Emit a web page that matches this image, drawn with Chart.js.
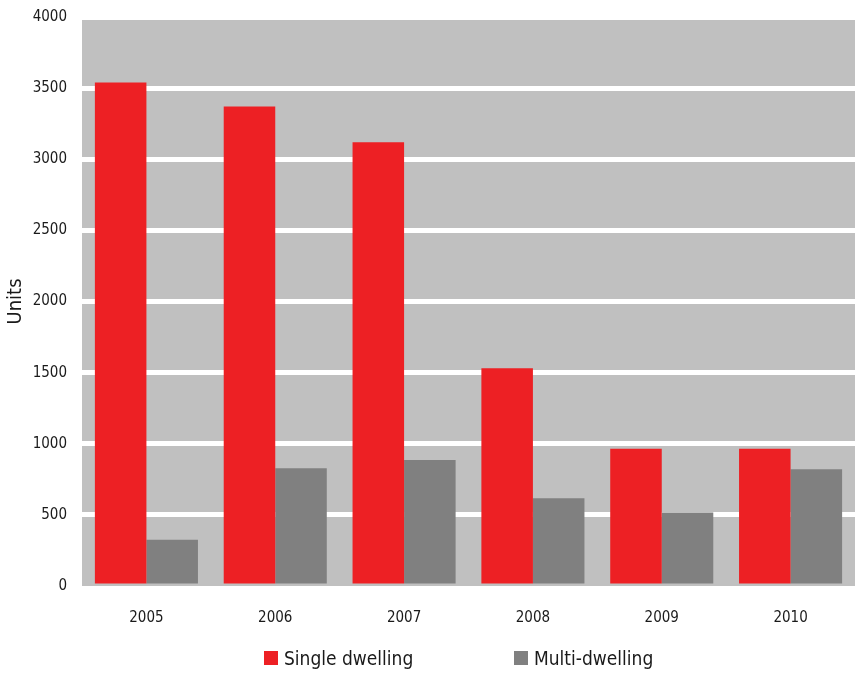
<!DOCTYPE html>
<html>
<head>
<meta charset="utf-8">
<script src="https://cdn.jsdelivr.net/npm/chart.js@4"></script>
<style>
  html, body { margin: 0; padding: 0; background: #fff; }
  #wrap { position: relative; width: 859px; height: 675px; }
  #legend {
    position: absolute; left: 264px; top: 647px;
    display: flex; align-items: center;
    font-family: "DejaVu Sans Condensed", sans-serif;
    font-size: 19px; color: #1a1a1a;
  }
  .item { display: flex; align-items: center; width: 250px; }
  .box { width: 14px; height: 14px; margin-right: 6px; }
</style>
</head>
<body>
<div id="wrap">
  <canvas id="chart" width="859" height="675"></canvas>
  <div id="legend"></div>
</div>
<script>
var years = ["2005", "2006", "2007", "2008", "2009", "2010"];
var singleDwelling = [3540, 3370, 3120, 1530, 965, 965];
var multiDwelling = [326, 828, 885, 616, 517, 821];
var seriesNames = ["Single dwelling", "Multi-dwelling"];
var seriesColors = ["#ed2024", "#808080"];

var fontFamily = '"DejaVu Sans Condensed", sans-serif';

// grey plot background behind the grid
var plotBackground = {
    id: 'plotBackground',
    beforeDraw: function (chart) {
        var a = chart.chartArea;
        var ctx = chart.ctx;
        ctx.save();
        ctx.fillStyle = '#c0c0c0';
        ctx.fillRect(a.left, a.top, a.right - a.left, a.bottom - a.top);
        ctx.restore();
    }
};

var ctx = document.getElementById("chart").getContext('2d');
var myChart = new Chart(ctx, {
    type: 'bar',
    data: {
        labels: years,
        datasets: [
            {
                label: seriesNames[0],
                data: singleDwelling,
                backgroundColor: seriesColors[0],
            },
            {
                label: seriesNames[1],
                data: multiDwelling,
                backgroundColor: seriesColors[1],
            }
        ]
    },
    options: {
        responsive: false,
        animation: false,
        layout: { padding: { top: 17, right: 4 } },
        datasets: {
            bar: { categoryPercentage: 0.8, barPercentage: 1.0 }
        },
        plugins: {
            legend: { display: false },
            tooltip: { enabled: false }
        },
        scales: {
            x: {
                grid: { display: false },
                border: { display: false },
                ticks: {
                    color: '#1a1a1a',
                    padding: 15,
                    font: { family: fontFamily, size: 15 }
                },
                afterFit: function (scale) { scale.height = 89; }
            },
            y: {
                min: 0,
                max: 4000,
                border: { display: false },
                grid: {
                    drawTicks: true,
                    tickLength: 14,
                    tickColor: 'rgba(0,0,0,0)',
                    lineWidth: 5,
                    color: function (c) {
                        return c.tick && c.tick.value === 0 ? 'rgba(0,0,0,0)' : '#ffffff';
                    }
                },
                ticks: {
                    stepSize: 500,
                    color: '#1a1a1a',
                    padding: 1,
                    font: { family: fontFamily, size: 15 },
                    callback: function (v) { return String(v); }
                },
                title: {
                    display: true,
                    text: 'Units',
                    color: '#1a1a1a',
                    padding: { top: 4, bottom: 4 },
                    font: { family: fontFamily, size: 20 }
                },
                afterFit: function (scale) { scale.width = 82; }
            }
        }
    },
    plugins: [plotBackground]
});

// legend as html text below the canvas
var legend = document.getElementById('legend');
myChart.data.datasets.forEach(function (ds) {
    var item = document.createElement('div');
    item.className = 'item';
    var box = document.createElement('span');
    box.className = 'box';
    box.style.background = ds.backgroundColor;
    var txt = document.createElement('span');
    txt.textContent = ds.label;
    item.appendChild(box);
    item.appendChild(txt);
    legend.appendChild(item);
});
</script>
</body>
</html>
